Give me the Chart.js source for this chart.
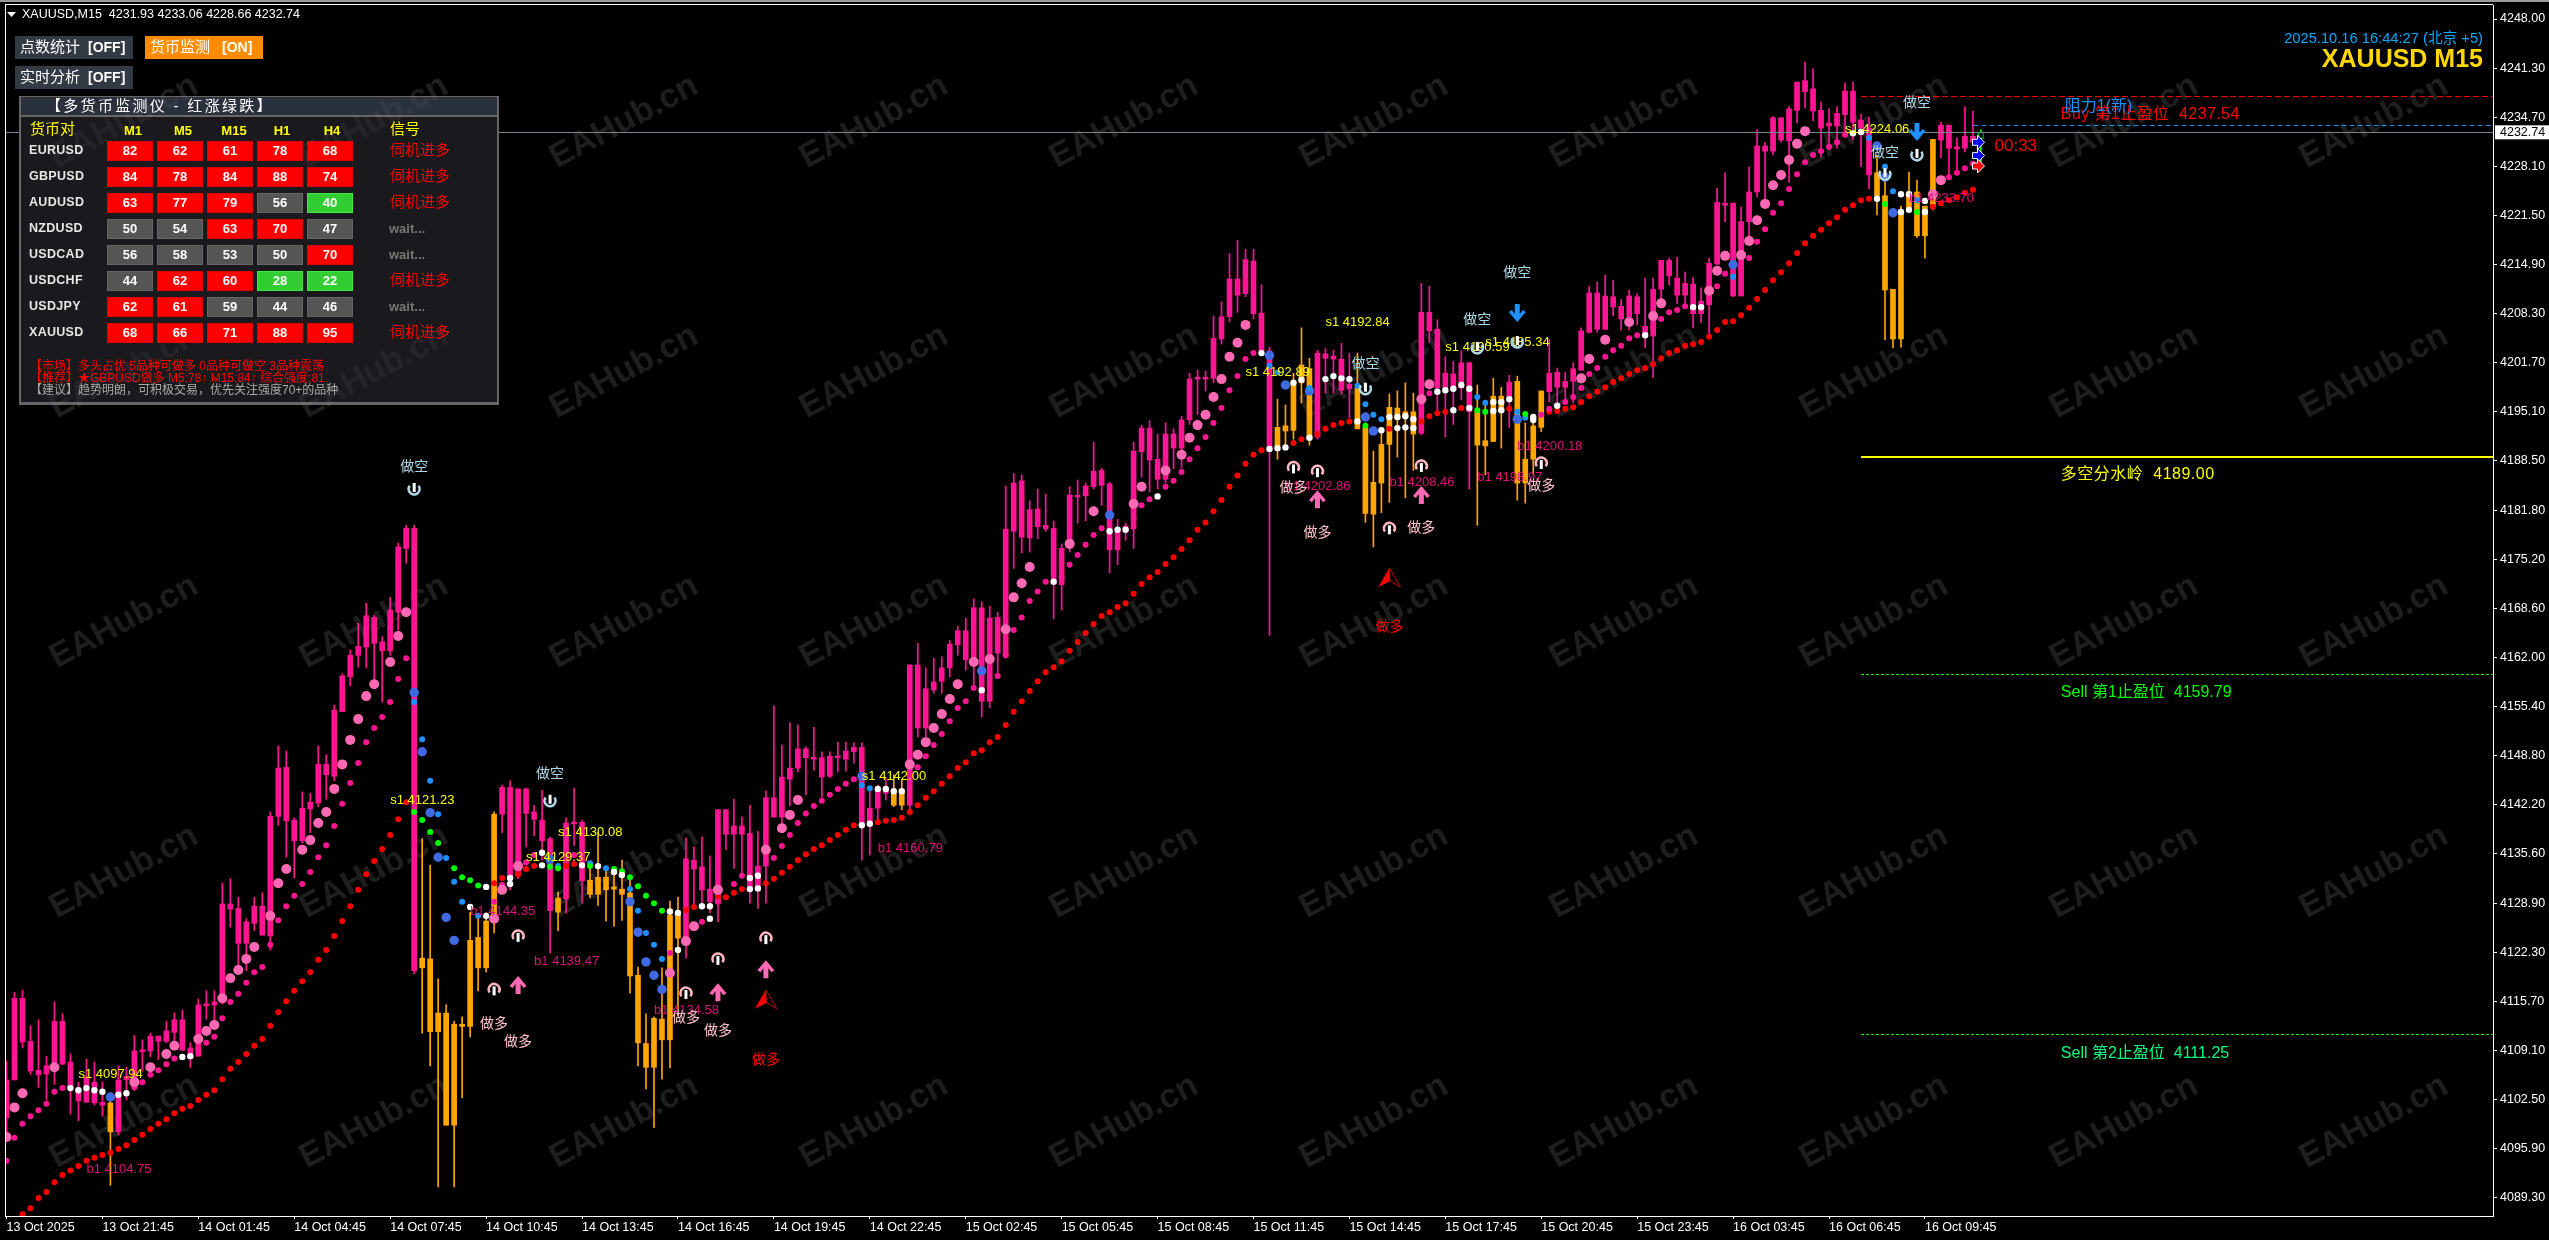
<!DOCTYPE html>
<html>
<head>
<meta charset="utf-8">
<title>XAUUSD,M15</title>
<style>
  html, body { margin: 0; background: #000; }
  canvas { display: block; }
</style>
<script src="https://cdn.jsdelivr.net/npm/chart.js@4"></script>
</head>
<body>
<canvas id="myChart" width="2549" height="1240"></canvas>
<script>
const candleHigh = [
  4107.6,4116.9,4117.2,4112.4,4113.2,4108.3,4115.6,4114.0,4108.6,4104.8,
  4107.9,4107.5,4104.8,4102.8,4107.0,4106.8,4111.1,4110.5,4111.4,4111.0,
  4113.0,4114.1,4114.5,4110.1,4116.0,4117.1,4117.1,4131.6,4132.2,4129.7,
  4126.8,4129.7,4130.3,4141.2,4150.1,4149.4,4140.4,4143.9,4143.7,4150.1,
  4148.9,4155.6,4159.8,4163.0,4166.6,4169.3,4167.7,4164.8,4170.1,4177.4,
  4179.8,4179.8,4137.6,4134.0,4118.7,4115.2,4113.0,4113.6,4127.7,4127.0,
  4127.6,4141.2,4144.8,4145.4,4144.3,4144.4,4142.1,4144.1,4137.8,4130.4,
  4140.4,4144.4,4140.1,4134.3,4138.4,4133.8,4133.4,4134.7,4132.0,4120.3,
  4114.0,4113.6,4120.2,4129.2,4129.7,4137.7,4136.5,4137.8,4135.3,4141.5,
  4141.5,4142.9,4140.5,4142.1,4138.6,4144.0,4155.5,4150.2,4153.2,4152.9,
  4150.0,4152.6,4149.3,4149.3,4150.6,4150.6,4150.5,4150.5,4144.1,4144.8,
  4145.8,4146.2,4145.5,4161.0,4163.9,4160.6,4161.9,4162.1,4164.3,4166.2,
  4167.3,4169.9,4169.5,4168.9,4168.1,4185.1,4186.8,4186.6,4183.1,4184.7,
  4184.0,4180.4,4177.3,4185.0,4185.9,4185.5,4191.0,4187.5,4185.6,4180.6,
  4180.1,4191.0,4193.3,4193.9,4192.1,4193.6,4192.8,4194.5,4200.3,4200.7,
  4200.6,4208.0,4209.9,4216.4,4218.2,4217.0,4217.0,4212.2,4203.8,4196.8,
  4196.0,4200.3,4206.4,4202.3,4203.4,4203.6,4203.4,4204.3,4203.0,4203.0,
  4193.6,4189.8,4192.2,4197.5,4197.9,4199.0,4197.6,4212.4,4212.0,4207.5,
  4202.5,4201.9,4203.3,4201.8,4198.7,4196.4,4199.6,4198.4,4200.0,4199.9,
  4193.6,4193.6,4197.9,4204.8,4201.0,4200.4,4201.7,4206.4,4212.0,4212.6,
  4213.5,4212.8,4210.2,4211.5,4211.0,4213.1,4213.1,4215.5,4215.8,4215.9,
  4213.9,4213.2,4211.8,4215.8,4225.2,4227.3,4223.2,4222.7,4228.1,4233.1,
  4231.4,4234.9,4234.7,4236.2,4239.5,4242.2,4241.3,4236.8,4235.9,4236.2,
  4239.4,4239.5,4235.2,4234.8,4229.7,4227.4,4211.6,4222.8,4227.4,4226.3,
  4222.8,4231.8,4234.1,4233.7,4232.0,4236.2,4235.6,4233.06
];
const candleTop = [
  4105.1,4116.1,4116.1,4110.3,4106.4,4107.0,4113.0,4113.0,4107.5,4104.0,
  4105.5,4104.8,4102.1,4102.0,4105.1,4105.6,4109.0,4109.1,4111.0,4111.0,
  4111.7,4113.2,4113.2,4109.4,4115.2,4115.2,4115.6,4128.8,4128.8,4128.2,
  4126.4,4128.5,4128.5,4140.6,4147.1,4147.2,4140.1,4141.7,4142.5,4147.6,
  4147.6,4154.9,4159.5,4162.3,4163.5,4167.6,4167.4,4164.1,4168.4,4176.9,
  4179.4,4179.4,4121.5,4121.4,4114.1,4114.1,4112.6,4112.6,4123.9,4124.3,
  4126.5,4140.9,4144.5,4144.5,4144.3,4144.3,4141.2,4140.1,4137.6,4129.6,
  4139.7,4139.7,4139.8,4132.0,4132.4,4132.4,4131.1,4130.8,4130.3,4119.2,
  4110.0,4113.4,4113.3,4127.3,4127.3,4134.9,4134.7,4133.8,4130.8,4141.5,
  4141.5,4139.3,4139.3,4138.3,4133.9,4143.1,4143.1,4145.9,4147.1,4149.7,
  4149.7,4148.5,4148.5,4148.7,4148.7,4149.4,4149.9,4149.9,4141.7,4144.1,
  4144.4,4143.7,4144.1,4161.0,4161.0,4157.8,4158.7,4160.6,4163.8,4165.6,
  4165.6,4168.7,4168.7,4167.3,4167.4,4179.3,4185.5,4185.8,4181.9,4182.0,
  4179.8,4179.4,4176.7,4183.9,4183.8,4185.1,4187.1,4187.2,4185.4,4179.2,
  4179.7,4189.8,4192.9,4192.9,4188.7,4192.1,4192.1,4194.0,4199.5,4199.6,
  4199.6,4205.0,4207.9,4213.0,4213.0,4215.6,4215.4,4208.4,4203.3,4193.0,
  4193.2,4199.0,4201.4,4200.9,4203.0,4202.9,4202.6,4202.2,4198.8,4198.3,
  4193.0,4185.6,4190.7,4195.7,4195.6,4195.1,4195.1,4208.5,4208.5,4206.2,
  4200.3,4200.2,4201.7,4201.7,4195.1,4191.2,4197.2,4197.2,4199.1,4199.2,
  4188.7,4193.2,4197.9,4200.3,4200.4,4199.2,4200.9,4206.0,4211.1,4211.1,
  4210.7,4210.6,4209.3,4210.7,4210.6,4206.6,4211.6,4215.5,4215.5,4213.1,
  4212.4,4212.3,4210.0,4215.1,4223.3,4223.2,4223.2,4220.7,4224.7,4230.9,
  4230.9,4234.7,4234.7,4235.9,4239.5,4239.7,4238.6,4235.7,4234.0,4235.3,
  4238.3,4238.3,4234.4,4233.3,4227.3,4224.2,4211.6,4222.0,4224.7,4224.7,
  4222.8,4231.8,4233.7,4233.7,4230.8,4232.2,4232.2,4232.74
];
const candleBottom = [
  4100.0,4105.1,4110.2,4106.3,4105.8,4105.9,4107.1,4107.2,4104.0,4102.3,
  4102.1,4102.0,4101.7,4098.1,4098.1,4105.1,4104.0,4108.9,4109.0,4110.3,
  4110.3,4111.5,4109.1,4108.2,4108.3,4115.1,4115.2,4115.5,4128.1,4123.5,
  4123.5,4126.2,4124.6,4124.5,4140.6,4140.0,4137.3,4137.3,4141.6,4142.4,
  4146.2,4146.0,4154.7,4159.4,4162.3,4163.4,4163.9,4162.9,4162.9,4168.1,
  4176.7,4119.8,4120.2,4111.6,4111.6,4099.0,4099.0,4112.3,4112.3,4120.2,
  4120.2,4126.6,4140.9,4132.4,4132.6,4141.0,4140.2,4137.3,4127.9,4127.7,
  4129.5,4139.6,4131.9,4130.1,4130.1,4130.7,4130.8,4130.1,4119.1,4110.1,
  4106.8,4106.8,4110.5,4110.5,4124.2,4124.1,4133.5,4130.7,4129.1,4128.9,
  4138.2,4138.2,4138.2,4130.9,4130.9,4133.9,4140.5,4140.5,4145.6,4147.1,
  4148.5,4148.3,4145.9,4146.0,4148.5,4148.3,4149.3,4139.4,4139.4,4141.7,
  4143.7,4142.1,4142.1,4142.1,4152.5,4152.5,4157.6,4158.8,4160.6,4163.7,
  4161.7,4161.0,4156.1,4156.1,4162.6,4162.1,4179.0,4178.2,4178.1,4179.6,
  4179.3,4172.0,4171.8,4177.8,4183.6,4183.8,4185.0,4185.2,4176.5,4176.5,
  4179.0,4179.3,4189.7,4188.6,4186.0,4186.0,4190.2,4190.2,4194.0,4199.5,
  4199.5,4199.6,4204.9,4207.9,4210.8,4211.0,4208.3,4203.3,4190.2,4190.3,
  4192.5,4192.6,4199.0,4191.6,4191.7,4202.3,4202.2,4198.0,4198.2,4192.8,
  4181.4,4181.3,4185.5,4190.7,4194.1,4194.5,4192.1,4192.2,4206.0,4198.3,
  4198.3,4198.0,4198.3,4195.1,4190.6,4190.5,4191.1,4195.1,4197.1,4185.5,
  4185.5,4188.7,4193.0,4197.8,4198.4,4198.4,4199.2,4200.7,4205.8,4206.2,
  4206.2,4209.2,4207.6,4207.9,4208.3,4205.4,4205.3,4211.6,4213.4,4210.8,
  4210.8,4208.3,4208.3,4209.5,4215.0,4222.9,4210.7,4210.7,4220.7,4224.7,
  4230.2,4230.2,4231.7,4231.6,4235.7,4238.2,4235.6,4233.3,4233.6,4233.6,
  4235.1,4234.1,4233.3,4227.0,4224.2,4211.5,4204.9,4204.9,4222.6,4218.8,
  4218.8,4222.8,4231.7,4230.6,4230.5,4230.6,4231.4,4231.93
];
const candleLow = [
  4097.7,4105.1,4109.4,4105.8,4104.1,4102.4,4104.5,4107.2,4100.5,4099.6,
  4102.1,4101.7,4100.2,4090.9,4097.7,4102.4,4103.7,4106.3,4108.2,4107.8,
  4110.1,4110.1,4109.1,4106.8,4108.3,4113.3,4112.9,4115.3,4125.7,4120.2,
  4119.8,4125.2,4124.6,4122.6,4139.4,4135.1,4132.3,4137.0,4138.4,4141.9,
  4142.9,4145.4,4154.7,4158.2,4160.7,4160.6,4159.0,4156.0,4162.3,4165.7,
  4174.7,4119.4,4111.4,4107.0,4090.7,4099.0,4090.7,4102.7,4110.9,4117.1,
  4119.6,4124.9,4138.4,4130.7,4132.2,4136.5,4138.0,4134.7,4122.2,4125.2,
  4127.6,4136.7,4128.9,4129.6,4128.6,4126.5,4125.8,4126.6,4116.8,4107.0,
  4103.9,4098.7,4105.2,4106.7,4113.8,4121.5,4128.2,4128.4,4127.6,4126.4,
  4136.1,4133.6,4132.9,4128.9,4128.2,4128.9,4140.5,4138.9,4142.0,4146.6,
  4143.5,4146.8,4143.2,4145.8,4146.6,4146.7,4147.8,4134.7,4135.4,4139.7,
  4142.8,4141.9,4141.5,4140.8,4151.3,4151.3,4157.2,4157.2,4159.4,4162.3,
  4160.3,4158.3,4154.0,4155.2,4159.6,4161.9,4174.0,4176.1,4176.2,4178.0,
  4179.0,4167.2,4168.4,4176.2,4180.1,4180.4,4184.7,4182.5,4173.4,4174.5,
  4177.8,4176.7,4186.3,4184.3,4184.7,4185.5,4187.4,4187.5,4193.4,4194.7,
  4197.9,4199.0,4204.2,4207.2,4208.5,4210.6,4207.6,4202.7,4165.0,4188.7,
  4190.2,4191.4,4196.3,4190.6,4191.4,4197.6,4197.6,4197.5,4194.3,4192.8,
  4180.2,4176.9,4181.5,4182.9,4189.0,4183.5,4187.2,4192.0,4204.4,4195.1,
  4191.7,4193.4,4196.7,4184.7,4179.8,4186.6,4191.1,4190.2,4193.0,4183.2,
  4182.8,4186.6,4192.4,4196.4,4195.7,4196.3,4196.3,4200.7,4205.7,4205.8,
  4206.2,4208.0,4206.1,4206.1,4206.8,4203.7,4199.7,4209.5,4212.2,4209.7,
  4209.7,4206.4,4207.1,4205.4,4214.9,4220.7,4210.6,4210.7,4218.2,4224.0,
  4223.6,4229.7,4231.4,4226.0,4234.0,4236.0,4234.3,4229.4,4230.4,4230.6,
  4232.1,4231.7,4228.1,4225.1,4221.6,4204.8,4203.7,4203.8,4222.3,4218.6,
  4215.8,4222.3,4229.3,4227.0,4227.4,4230.1,4231.3,4228.66
];
const orangeBars = [13,52,53,54,55,56,57,58,59,60,61,69,73,74,75,76,77,78,79,80,81,82,83,84,111,112,
  159,160,161,162,163,169,170,171,172,173,174,175,176,184,185,186,187,189,190,191,192,
  234,235,236,237,238,239,240,241];
const openBar = 247;

const redDots = [[2,4087.0],[3,4087.8],[4,4089.2],[5,4090.0],[6,4091.3],[7,4092.3],[8,4092.9],[9,4093.5],[10,4094.2],[11,4094.6],[12,4095.0],[13,4095.3],[14,4095.8],[15,4096.3],[16,4097.0],[17,4097.7],[18,4098.5],[19,4099.2],[20,4099.8],[21,4100.6],[22,4101.2],[23,4101.6],[24,4102.4],[25,4103.1],[26,4103.7],[27,4105.2],[28,4106.6],[29,4107.5],[30,4108.6],[31,4109.7],[32,4110.6],[33,4112.4],[34,4114.2],[35,4115.7],[36,4117.1],[37,4118.4],[38,4119.6],[39,4121.3],[40,4122.6],[41,4124.5],[42,4126.5],[43,4128.5],[44,4130.7],[45,4132.8],[46,4134.6],[47,4136.2],[48,4138.1],[49,4140.2],[50,4142.5],[61,4131.6],[62,4132.3],[64,4132.8],[65,4133.5],[66,4133.9],[70,4133.9],[71,4134.2],[85,4128.0],[86,4128.4],[89,4129.7],[90,4129.7],[91,4130.3],[92,4130.8],[95,4131.6],[96,4132.2],[97,4133.0],[98,4133.8],[99,4134.7],[100,4135.5],[101,4136.2],[102,4136.7],[103,4137.4],[104,4138.1],[105,4138.8],[106,4139.4],[109,4139.8],[110,4140.0],[111,4140.1],[112,4140.4],[113,4141.2],[114,4142.1],[115,4143.1],[116,4144.0],[117,4145.0],[118,4146.0],[119,4147.1],[120,4147.9],[121,4149.1],[122,4149.5],[123,4150.6],[124,4151.3],[125,4152.9],[126,4154.7],[127,4156.1],[128,4157.5],[129,4158.8],[130,4160.0],[131,4160.7],[132,4161.5],[133,4162.9],[134,4164.1],[135,4165.3],[136,4166.5],[137,4167.6],[138,4168.1],[139,4168.8],[140,4169.3],[141,4170.6],[142,4171.9],[143,4172.8],[144,4173.5],[145,4174.6],[146,4175.5],[147,4176.6],[148,4177.8],[149,4179.2],[150,4180.2],[151,4181.7],[152,4183.2],[153,4185.0],[154,4186.5],[155,4188.1],[156,4189.3],[157,4189.9],[161,4190.9],[162,4191.4],[164,4192.1],[165,4192.8],[166,4193.3],[167,4193.6],[168,4193.8],[173,4192.8],[177,4193.8],[178,4194.5],[179,4194.9],[180,4195.1],[182,4195.6],[188,4195.5],[193,4195.1],[194,4195.2],[195,4195.5],[196,4195.7],[197,4196.4],[198,4197.2],[199,4197.8],[200,4198.4],[201,4199.1],[202,4199.6],[203,4200.2],[204,4200.7],[205,4201.0],[206,4201.5],[207,4202.3],[208,4203.0],[209,4203.4],[210,4204.0],[211,4204.2],[212,4204.5],[213,4205.2],[214,4206.1],[215,4207.2],[216,4207.3],[217,4208.1],[218,4209.1],[219,4210.3],[220,4211.5],[221,4212.8],[222,4213.9],[223,4215.1],[224,4216.5],[225,4217.8],[226,4218.8],[227,4219.6],[228,4220.5],[229,4221.3],[230,4222.3],[231,4222.9],[232,4223.6],[233,4223.8],[241,4222.7],[242,4223.2],[243,4223.6],[244,4224.0],[245,4224.6],[246,4225.0]];
const magentaDots = [[0,4094.2],[1,4097.3],[2,4099.2],[3,4100.2],[4,4101.0],[5,4101.9],[6,4103.5],[7,4104.0],[16,4104.1],[17,4104.8],[18,4105.8],[19,4106.4],[20,4107.2],[21,4108.0],[24,4109.3],[25,4110.1],[26,4110.9],[27,4113.4],[28,4115.6],[29,4116.7],[30,4118.2],[31,4119.6],[32,4120.3],[33,4123.3],[34,4126.6],[35,4128.5],[36,4129.9],[37,4131.5],[38,4133.1],[39,4135.1],[40,4136.7],[41,4139.3],[42,4142.3],[43,4145.1],[44,4147.8],[45,4150.6],[46,4152.5],[47,4154.0],[48,4156.0],[49,4159.1],[50,4161.9],[61,4129.1],[62,4131.4],[65,4134.4],[66,4135.4],[71,4135.4],[83,4122.2],[87,4126.4],[89,4129.1],[91,4131.5],[92,4132.6],[96,4135.0],[97,4136.6],[98,4138.1],[99,4139.7],[100,4141.0],[101,4142.0],[102,4142.7],[103,4143.5],[104,4144.3],[105,4145.0],[106,4145.6],[114,4147.2],[115,4148.7],[116,4150.2],[117,4151.7],[118,4153.4],[119,4155.2],[120,4156.1],[121,4157.9],[124,4159.5],[125,4162.3],[126,4165.7],[127,4167.4],[128,4169.6],[129,4170.9],[130,4172.2],[132,4172.8],[133,4174.5],[134,4175.8],[135,4177.2],[136,4178.5],[137,4179.4],[141,4180.8],[142,4182.5],[143,4183.3],[145,4185.0],[146,4185.8],[147,4187.0],[148,4188.7],[149,4190.2],[150,4191.7],[151,4193.6],[152,4195.6],[153,4198.0],[154,4199.9],[155,4202.2],[156,4203.0],[178,4197.6],[192,4194.7],[193,4195.5],[195,4196.4],[196,4197.1],[197,4198.3],[198,4200.2],[199,4201.0],[200,4202.5],[201,4203.4],[202,4204.0],[203,4205.0],[204,4205.4],[206,4206.5],[207,4207.6],[208,4208.5],[209,4208.8],[210,4209.3],[213,4210.3],[214,4212.0],[215,4213.7],[217,4214.5],[218,4215.8],[219,4218.0],[220,4219.7],[221,4221.9],[222,4223.2],[223,4225.1],[224,4227.1],[225,4228.7],[226,4229.7],[227,4230.2],[228,4230.8],[229,4231.4],[230,4232.4],[243,4226.7],[244,4227.3],[245,4227.9],[246,4228.5]];
const pinkDots = [[0,4097.4],[1,4101.4],[2,4103.3],[6,4106.8],[16,4104.8],[18,4106.8],[20,4108.6],[21,4109.7],[24,4110.6],[25,4111.7],[26,4112.5],[27,4116.1],[28,4118.8],[29,4119.9],[30,4121.4],[31,4123.0],[33,4127.2],[34,4131.6],[35,4133.5],[37,4136.1],[38,4137.4],[39,4139.7],[40,4141.2],[41,4144.3],[42,4147.6],[43,4150.9],[44,4153.7],[45,4156.8],[46,4158.4],[48,4161.4],[49,4164.9],[50,4168.1],[61,4126.8],[62,4130.7],[64,4133.9],[83,4119.5],[85,4123.8],[86,4125.8],[89,4130.7],[95,4136.1],[97,4139.0],[98,4140.8],[99,4142.8],[113,4147.6],[114,4148.9],[115,4150.6],[116,4152.5],[117,4154.4],[118,4156.4],[119,4158.4],[121,4161.4],[123,4161.8],[125,4165.8],[126,4170.1],[127,4172.0],[128,4174.2],[133,4177.3],[136,4181.7],[141,4182.7],[142,4185.0],[145,4187.2],[147,4189.3],[148,4191.6],[149,4193.3],[150,4194.7],[151,4197.1],[152,4199.5],[153,4202.5],[154,4204.4],[155,4206.8],[177,4196.8],[178,4198.8],[197,4199.6],[198,4202.2],[200,4204.8],[203,4207.2],[206,4208.0],[207,4209.7],[213,4211.4],[214,4214.1],[215,4216.1],[217,4216.2],[218,4218.1],[219,4220.9],[220,4223.1],[221,4225.6],[222,4227.0],[223,4229.0],[224,4231.2],[225,4232.9],[241,4224.4],[242,4226.3]];
const royalDots = [[13,4102.8],[51,4157.3],[52,4149.3],[53,4141.1],[54,4135.1],[55,4127.0],[56,4123.9],[68,4134.8],[78,4129.1],[79,4125.0],[80,4121.0],[81,4119.2],[82,4117.3],[107,4146.0],[122,4160.2],[138,4181.2],[158,4202.7],[160,4198.7],[163,4197.9],[170,4194.4],[171,4192.5],[189,4194.1],[216,4214.9],[234,4230.9],[235,4226.7],[236,4221.9]];
const blueDots = [[51,4156.0],[52,4151.0],[53,4145.4],[54,4140.9],[55,4135.0],[56,4131.8],[57,4129.1],[59,4127.2],[69,4133.9],[73,4134.3],[75,4133.6],[78,4130.8],[79,4127.9],[80,4124.9],[81,4123.3],[82,4121.4],[107,4144.8],[108,4144.4],[158,4201.3],[159,4200.4],[163,4198.3],[169,4198.6],[170,4196.1],[171,4194.7],[172,4194.1],[184,4197.1],[185,4196.3],[189,4195.1],[190,4194.3],[216,4213.3],[233,4232.0],[235,4228.1],[236,4224.8],[239,4223.6]];
const greenDots = [[51,4141.2],[52,4140.1],[53,4138.5],[54,4137.0],[56,4133.6],[57,4132.4],[58,4132.0],[59,4131.3],[68,4133.8],[69,4133.6],[73,4133.9],[76,4133.5],[77,4133.2],[78,4132.4],[79,4131.2],[80,4129.9],[81,4128.9],[82,4127.9],[170,4193.2],[184,4195.3],[185,4195.1],[190,4194.8],[235,4223.1],[239,4222.0]];
const whiteDots = [[8,4104.0],[9,4103.7],[10,4104.0],[11,4103.7],[12,4103.5],[14,4103.1],[15,4103.3],[22,4108.2],[23,4108.3],[58,4128.4],[60,4131.1],[60,4127.2],[63,4132.3],[63,4131.5],[67,4135.7],[67,4134.0],[72,4134.0],[74,4133.9],[76,4133.1],[77,4132.7],[83,4127.8],[84,4127.6],[84,4122.6],[87,4128.5],[88,4128.5],[88,4126.8],[93,4132.3],[93,4130.8],[94,4132.6],[94,4130.9],[107,4139.4],[108,4139.6],[109,4144.3],[110,4144.3],[111,4144.0],[112,4144.0],[122,4157.6],[131,4172.2],[138,4179.0],[139,4179.2],[140,4179.2],[144,4183.7],[157,4203.0],[158,4190.1],[159,4190.2],[160,4190.3],[161,4199.0],[162,4199.4],[163,4191.6],[165,4199.5],[166,4199.9],[167,4199.6],[168,4199.5],[169,4193.8],[172,4192.6],[173,4194.4],[174,4194.4],[174,4192.9],[175,4194.5],[175,4193.0],[176,4194.1],[176,4192.9],[179,4197.8],[180,4198.0],[181,4198.2],[181,4195.3],[182,4198.7],[183,4198.2],[183,4195.6],[186,4196.4],[186,4195.2],[187,4196.4],[187,4195.3],[188,4196.8],[191,4194.4],[191,4194.0],[194,4195.9],[205,4205.4],[211,4209.2],[212,4209.2],[231,4232.6],[232,4232.8],[234,4223.8],[237,4224.4],[237,4222.0],[238,4224.4],[238,4222.3],[240,4223.5],[240,4222.0]];

const priceTicks = [4248,4241.3,4234.7,4228.1,4221.5,4214.9,4208.3,4201.7,4195.1,4188.5,4181.8,4175.2,4168.6,4162,4155.4,4148.8,4142.2,4135.6,4128.9,4122.3,4115.7,4109.1,4102.5,4095.9,4089.3];
const timeTickBars = [0,12,24,36,48,60,72,84,96,108,120,132,144,156,168,180,192,204,216,228,240];
const timeTickLabels = ["13 Oct 2025","13 Oct 21:45","14 Oct 01:45","14 Oct 04:45","14 Oct 07:45","14 Oct 10:45","14 Oct 13:45","14 Oct 16:45","14 Oct 19:45","14 Oct 22:45","15 Oct 02:45","15 Oct 05:45","15 Oct 08:45","15 Oct 11:45","15 Oct 14:45","15 Oct 17:45","15 Oct 20:45","15 Oct 23:45","16 Oct 03:45","16 Oct 06:45","16 Oct 09:45"];

const lastPrice = 4232.74;
// level lines
const lastLine = 4232.716;
const buyLine = 4237.565;
const resistanceLine = 4233.659;
const divideLine = 4189.0;
const sellLine1 = 4159.71;
const sellLine2 = 4111.22;
const levelStartBar = 232;

const sellLabels = [[9,4105.8,"s1 4097.94"],[48,4142.7,"s1 4121.23"],[69,4138.5,"s1 4130.08"],[65,4135.1,"s1 4129.37"],[107,4146.0,"s1 4142.00"],[155,4200.4,"s1 4192.89"],[165,4207.1,"s1 4192.84"],[180,4203.8,"s1 4190.59"],[185,4204.5,"s1 4185.34"],[230,4233.1,"s1 4224.06"]];
const buyLabels = [[10,4093.0,"b1 4104.75"],[58,4127.8,"b1 4144.35"],[66,4121.1,"b1 4139.47"],[81,4114.5,"b1 4134.58"],[109,4136.3,"b1 4160.79"],[160,4185.0,"b1 4202.86"],[173,4185.6,"b1 4208.46"],[184,4186.2,"b1 4198.97"],[189,4190.4,"b1 4200.18"],[238,4223.9,"b1 4233.70"]];
const shortWords = [[51,4187.6],[68,4146.3],[189,4213.8],[184,4207.5],[170,4201.5],[239,4236.7],[235,4230.0]];
const longWords = [[61,4112.6],[64,4110.2],[85,4113.4],[89,4111.7],[161,4184.8],[164,4178.8],[177,4179.4],[192,4185.1]];
const redLongWords = [[95,4107.8],[173,4166.1]];
const longRings = [[61,4117.3],[64,4124.5],[85,4116.8],[89,4121.4],[95,4124.2],[161,4187.6],[164,4187.1],[173,4179.4],[177,4187.8],[192,4188.2]];
const shortRings = [[51,4184.7],[68,4142.7],[170,4198.2],[184,4203.7],[189,4204.5],[239,4229.7],[235,4227.1]];
const upArrows = [[64,4117.9],[89,4116.9],[95,4120.0],[164,4183.3],[177,4183.9]];
const downArrows = [[189,4208.4],[239,4232.8]];
const redNavArrows = [[95,4115.9],[173,4172.7]];
const priceArrows = [[246.7,4231.4,"#0000ff"],[246.7,4229.6,"#0000ff"],[246.7,4228.2,"#ff0000"]];

const monitorPairs = ["EURUSD","GBPUSD","AUDUSD","NZDUSD","USDCAD","USDCHF","USDJPY","XAUUSD"];
const monitorFrames = ["M1","M5","M15","H1","H4"];
const strengthM1 = [82,84,63,50,56,44,62,68];
const strengthM5 = [62,78,77,54,58,62,61,66];
const strengthM15 = [61,84,79,63,53,60,59,71];
const strengthH1 = [78,88,56,70,50,28,44,88];
const strengthH4 = [68,74,40,47,70,22,46,95];
const monitorSignals = ["伺机进多","伺机进多","伺机进多","wait...","wait...","伺机进多","wait...","伺机进多"];

const FONT = '"Liberation Sans","Noto Sans CJK SC",sans-serif';
const PINK = "#ff1493";
const ORANGE = "#ffa500";
const LIME = "#00ff00";

function barColor(i) {
  if (i === openBar) return LIME;
  return orangeBars.includes(i) ? ORANGE : PINK;
}

const wickData = candleHigh.map((h, i) => ({ x: i, y: [candleLow[i], h] }));
const bodyData = candleTop.map((t, i) => ({ x: i, y: [candleBottom[i], Math.max(t, candleBottom[i] + 0.25)] }));
const wickColors = candleHigh.map((h, i) => barColor(i));
const bodyColors = candleHigh.map((h, i) => (i === openBar ? "#000" : barColor(i)));
const bodyBorders = candleHigh.map((h, i) => (i === openBar ? 1 : 0));

function dotSet(label, dots, color, radius, order) {
  return {
    type: "line",
    label: label,
    data: dots.map((d) => ({ x: d[0], y: d[1] })),
    showLine: false,
    pointRadius: radius,
    pointBackgroundColor: color,
    pointBorderWidth: 0,
    order: order
  };
}

function levelSet(label, from, price, color, width, dash) {
  return {
    type: "line",
    label: label,
    data: [{ x: from, y: price }, { x: 311.0625, y: price }],
    borderColor: color,
    borderWidth: width,
    borderDash: dash,
    pointRadius: 0,
    order: 30
  };
}

function text(ctx, str, x, y, font, color, align, spacing) {
  ctx.font = font;
  ctx.fillStyle = color;
  ctx.textAlign = align || "left";
  ctx.textBaseline = "middle";
  ctx.letterSpacing = spacing || "0px";
  ctx.fillText(str, x, y);
  ctx.letterSpacing = "0px";
}

function drawWatermark(ctx, color) {
  ctx.save();
  ctx.font = "bold 34px " + FONT;
  ctx.fillStyle = color;
  ctx.textAlign = "center";
  ctx.textBaseline = "middle";
  for (let i = 0; i < 10; i++) {
    for (let j = 0; j < 5; j++) {
      ctx.save();
      ctx.translate(124 + 250 * i, 122 + 250 * j);
      ctx.rotate(-Math.PI / 6.4);
      ctx.fillText("EAHub.cn", 0, 0);
      ctx.restore();
    }
  }
  ctx.restore();
}

function drawRing(ctx, x, y, color, up) {
  ctx.strokeStyle = color;
  ctx.lineWidth = 2.5;
  ctx.beginPath();
  if (up) ctx.arc(x, y, 5.5, Math.PI * 0.8, Math.PI * 0.2);
  else ctx.arc(x, y, 5.5, Math.PI * 1.8, Math.PI * 1.2);
  ctx.stroke();
  ctx.fillStyle = "#fff";
  if (up) ctx.fillRect(x - 1.5, y - 3, 3, 9);
  else ctx.fillRect(x - 1.5, y - 6, 3, 9);
}

function drawArrow(ctx, x, y, color, dir) {
  ctx.fillStyle = color;
  ctx.beginPath();
  ctx.moveTo(x, y - 9 * dir);
  ctx.lineTo(x + 8.5, y + 1 * dir);
  ctx.lineTo(x + 5.5, y + 3 * dir);
  ctx.lineTo(x + 2.5, y - 1 * dir);
  ctx.lineTo(x + 2.5, y + 9 * dir);
  ctx.lineTo(x - 2.5, y + 9 * dir);
  ctx.lineTo(x - 2.5, y - 1 * dir);
  ctx.lineTo(x - 5.5, y + 3 * dir);
  ctx.lineTo(x - 8.5, y + 1 * dir);
  ctx.closePath();
  ctx.fill();
}

function drawNavArrow(ctx, x, y) {
  ctx.fillStyle = "#ff0000";
  ctx.beginPath();
  ctx.moveTo(x, y - 10);
  ctx.lineTo(x - 11, y + 9);
  ctx.lineTo(x + 1, y + 3);
  ctx.closePath();
  ctx.fill();
  ctx.strokeStyle = "#c00000";
  ctx.lineWidth = 1;
  ctx.beginPath();
  ctx.moveTo(x, y - 10);
  ctx.lineTo(x + 11, y + 9);
  ctx.lineTo(x + 1, y + 3);
  ctx.stroke();
}

function drawPriceArrow(ctx, x, y, color) {
  ctx.fillStyle = color;
  ctx.strokeStyle = "#fff";
  ctx.lineWidth = 1;
  ctx.beginPath();
  ctx.moveTo(x - 6, y - 3);
  ctx.lineTo(x - 1, y - 3);
  ctx.lineTo(x - 1, y - 7);
  ctx.lineTo(x + 6, y);
  ctx.lineTo(x - 1, y + 7);
  ctx.lineTo(x - 1, y + 3);
  ctx.lineTo(x - 6, y + 3);
  ctx.closePath();
  ctx.fill();
  ctx.stroke();
}

function drawButton(ctx, x, y, bg, word, state, stateX) {
  ctx.fillStyle = bg;
  ctx.fillRect(x, y, 118, 23);
  text(ctx, word, x + 5, y + 12, "15px " + FONT, "#fff");
  text(ctx, state, x + stateX, y + 12, "bold 14px " + FONT, "#fff");
}

function cellColor(v) {
  if (v >= 60) return "#ff0000";
  if (v <= 40) return "#32cd32";
  return "#555555";
}

function drawPanel(ctx) {
  drawButton(ctx, 15, 36, "#333a44", "点数统计", "[OFF]", 73);
  drawButton(ctx, 145, 36, "#ff8c00", "货币监测", "[ON]", 77);
  drawButton(ctx, 15, 66, "#333a44", "实时分析", "[OFF]", 73);

  ctx.fillStyle = "#666";
  ctx.fillRect(19, 96, 480, 309);
  ctx.fillStyle = "#2a303c";
  ctx.fillRect(21, 97, 476, 18);
  ctx.fillStyle = "#1a1a1e";
  ctx.fillRect(21, 117, 476, 285);

  ctx.save();
  ctx.beginPath();
  ctx.rect(19, 96, 480, 309);
  ctx.clip();
  drawWatermark(ctx, "rgba(255,255,255,0.05)");
  ctx.restore();

  text(ctx, "【多货币监测仪 - 红涨绿跌】", 46, 107, "15px " + FONT, "#fff", "left", "2.3px");
  text(ctx, "货币对", 30, 130, "15px " + FONT, "#ffff00");
  text(ctx, "信号", 390, 130, "15px " + FONT, "#ffff00");
  const frameX = [133, 183, 234, 282, 332];
  monitorFrames.forEach((f, i) => text(ctx, f, frameX[i], 131, "bold 13px " + FONT, "#ffff00", "center"));

  const rows = [strengthM1, strengthM5, strengthM15, strengthH1, strengthH4];
  monitorPairs.forEach((pair, r) => {
    const y = 141 + 26 * r;
    text(ctx, pair, 29, y + 10, "bold 12.5px " + FONT, "#e6e6e6", "left", "0.3px");
    rows.forEach((col, c) => {
      const v = col[r];
      const x = 107 + 50 * c;
      ctx.fillStyle = cellColor(v);
      ctx.fillRect(x, y, 46, 20);
      ctx.strokeStyle = v >= 60 ? "#e00000" : v <= 40 ? "#40e840" : "#666";
      ctx.lineWidth = 1;
      ctx.strokeRect(x + 0.5, y + 0.5, 45, 19);
      text(ctx, String(v), x + 23, y + 10.5, "bold 13px " + FONT, "#fff", "center");
    });
    const sig = monitorSignals[r];
    if (sig === "wait...") text(ctx, sig, 389, y + 10, "bold 13px " + FONT, "#777");
    else text(ctx, sig, 390, y + 10, "15px " + FONT, "#ff0000");
  });

  text(ctx, "【市场】多头占优 5品种可做多 0品种可做空 3品种震荡", 30, 367, "12px " + FONT, "#ff0000");
  text(ctx, "【推荐】★GBPUSD做多 M5:78↑ M15:84↑ 综合强度:81", 30, 379, "12px " + FONT, "#ff0000");
  text(ctx, "【建议】趋势明朗，可积极交易，优先关注强度70+的品种", 30, 391, "12px " + FONT, "#aaaaaa");
}

const mt4Overlay = {
  id: "mt4Overlay",
  beforeDatasetsDraw(chart) {
    const ctx = chart.ctx;
    const area = chart.chartArea;
    ctx.save();
    ctx.beginPath();
    ctx.rect(area.left, area.top, area.right - area.left, area.bottom - area.top);
    ctx.clip();
    drawWatermark(ctx, "#1e1e1e");
    ctx.restore();
  },
  afterDraw(chart) {
    const ctx = chart.ctx;
    const xs = chart.scales.x;
    const ys = chart.scales.y;
    const px = (k) => xs.getPixelForValue(k);
    const py = (p) => ys.getPixelForValue(p);
    const area = chart.chartArea;
    ctx.save();

    sellLabels.forEach((l) => text(ctx, l[2], px(l[0]), py(l[1]), "13px " + FONT, "#ffff00"));
    buyLabels.forEach((l) => text(ctx, l[2], px(l[0]), py(l[1]), "13px " + FONT, "#e0107a"));
    shortWords.forEach((l) => text(ctx, "做空", px(l[0]), py(l[1]), "14px " + FONT, "#add8e6", "center"));
    longWords.forEach((l) => text(ctx, "做多", px(l[0]), py(l[1]), "14px " + FONT, "#ffc0cb", "center"));
    redLongWords.forEach((l) => text(ctx, "做多", px(l[0]), py(l[1]), "14px " + FONT, "#ff0000", "center"));
    longRings.forEach((l) => drawRing(ctx, px(l[0]), py(l[1]), "#ffb6c1", true));
    shortRings.forEach((l) => drawRing(ctx, px(l[0]), py(l[1]), "#add8e6", false));
    upArrows.forEach((l) => drawArrow(ctx, px(l[0]), py(l[1]), "#ff69b4", 1));
    downArrows.forEach((l) => drawArrow(ctx, px(l[0]), py(l[1]), "#1e90ff", -1));
    redNavArrows.forEach((l) => drawNavArrow(ctx, px(l[0]), py(l[1])));
    priceArrows.forEach((l) => drawPriceArrow(ctx, px(l[0]), py(l[1]), l[2]));

    text(ctx, "Buy 第1止盈位  4237.54", px(257), py(4235.1), "16px " + FONT, "#ff0000", "left", "0.4px");
    text(ctx, "阻力1(新)", px(257.5), py(4236.2), "16px " + FONT, "#1e90ff");
    text(ctx, "多空分水岭  4189.00", px(257), py(4186.7), "16px " + FONT, "#ffff00", "left", "0.5px");
    text(ctx, "Sell 第1止盈位  4159.79", px(257), py(4157.3), "16px " + FONT, "#00ff00");
    text(ctx, "Sell 第2止盈位  4111.25", px(257), py(4108.7), "16px " + FONT, "#00ff7f");
    text(ctx, "00:33", px(248.7), py(4230.9), "17px " + FONT, "#ff0000");

    text(ctx, "2025.10.16 16:44:27 (北京 +5)", 2483, 39, "14.7px " + FONT, "#00aaff", "right");
    text(ctx, "XAUUSD M15", 2483, 60, "bold 25px " + FONT, "#ffd700", "right");

    // frame and header strip
    ctx.fillStyle = "#9a9a9a";
    ctx.fillRect(0, 0, 2549, 2);
    ctx.fillStyle = "#fff";
    ctx.fillRect(area.left, area.top - 1, area.right - area.left, 1);
    ctx.fillRect(area.left, area.top - 1, 1, area.bottom - area.top + 1);

    ctx.fillStyle = "#fff";
    ctx.beginPath();
    ctx.moveTo(7, 12);
    ctx.lineTo(16, 12);
    ctx.lineTo(11.5, 17);
    ctx.closePath();
    ctx.fill();
    text(ctx, "XAUUSD,M15  4231.93 4233.06 4228.66 4232.74", 22, 14.5, "12.5px " + FONT, "#fff");

    const lastY = py(lastPrice);
    ctx.fillStyle = "#fff";
    ctx.fillRect(2495, lastY - 7, 54, 14);
    text(ctx, lastPrice.toFixed(2), 2500, lastY + 0.5, "12.5px " + FONT, "#000");

    drawPanel(ctx);
    ctx.restore();
  }
};

const myCanvas = document.getElementById("myChart");

new Chart(myCanvas, {
  type: "bar",
  plugins: [mt4Overlay],
  data: {
    datasets: [
      {
        label: "wick",
        data: wickData,
        backgroundColor: wickColors,
        barThickness: 1,
        grouped: false,
        order: 41
      },
      {
        label: "body",
        data: bodyData,
        backgroundColor: bodyColors,
        borderColor: LIME,
        borderWidth: bodyBorders,
        borderSkipped: false,
        barThickness: 5,
        grouped: false,
        order: 40
      },
      levelSet("last", -0.1875, lastLine, "#778899", 1, []),
      levelSet("buy", levelStartBar, buyLine, "#ff0000", 1, [6, 3]),
      levelSet("resistance", 246.1, resistanceLine, "#1e90ff", 1, [5, 3]),
      levelSet("divide", levelStartBar, divideLine, "#ffff00", 2, []),
      levelSet("sell1", levelStartBar, sellLine1, "#00ff00", 1, [3, 2]),
      levelSet("sell2", levelStartBar, sellLine2, "#00ff00", 1, [3, 2]),
      dotSet("red", redDots, "#ff0000", 3, 20),
      dotSet("magenta", magentaDots, PINK, 3, 19),
      dotSet("pink", pinkDots, "#ff69b4", 5, 18),
      dotSet("royal", royalDots, "#4169e1", 4.7, 17),
      dotSet("blue", blueDots, "#1e90ff", 3, 16),
      dotSet("green", greenDots, LIME, 3, 15),
      dotSet("white", whiteDots, "#ffffff", 3.2, 14)
    ]
  },
  options: {
    responsive: false,
    animation: false,
    events: [],
    layout: { padding: { left: 3, top: 5, right: 0, bottom: 0 } },
    plugins: {
      legend: { display: false },
      tooltip: { enabled: false }
    },
    scales: {
      x: {
        type: "linear",
        offset: false,
        min: -0.1875,
        max: 311.0625,
        afterBuildTicks: (scale) => {
          scale.ticks = timeTickBars.map((v) => ({ value: v }));
        },
        afterFit: (scale) => {
          scale.height = 24;
          scale.paddingLeft = 0;
          scale.paddingRight = 0;
        },
        grid: { drawOnChartArea: false, drawTicks: true, tickLength: 3, color: "#fff", offset: false },
        border: { display: true, color: "#fff" },
        ticks: {
          autoSkip: false,
          maxRotation: 0,
          align: "start",
          padding: 1,
          color: "#fff",
          font: { family: "Liberation Sans", size: 12.5 },
          callback: (value, index) => timeTickLabels[index]
        }
      },
      y: {
        position: "right",
        min: 4086.77,
        max: 4249.89,
        afterBuildTicks: (scale) => {
          scale.ticks = priceTicks.map((v) => ({ value: v }));
        },
        afterFit: (scale) => {
          scale.width = 56;
          scale.paddingTop = 0;
          scale.paddingBottom = 0;
        },
        grid: { drawOnChartArea: false, drawTicks: true, tickLength: 4, color: "#fff" },
        border: { display: true, color: "#fff" },
        ticks: {
          autoSkip: false,
          padding: 3,
          color: "#fff",
          font: { family: "Liberation Sans", size: 12.5 },
          callback: (value) => value.toFixed(2)
        }
      }
    }
  }
});
</script>
</body>
</html>
